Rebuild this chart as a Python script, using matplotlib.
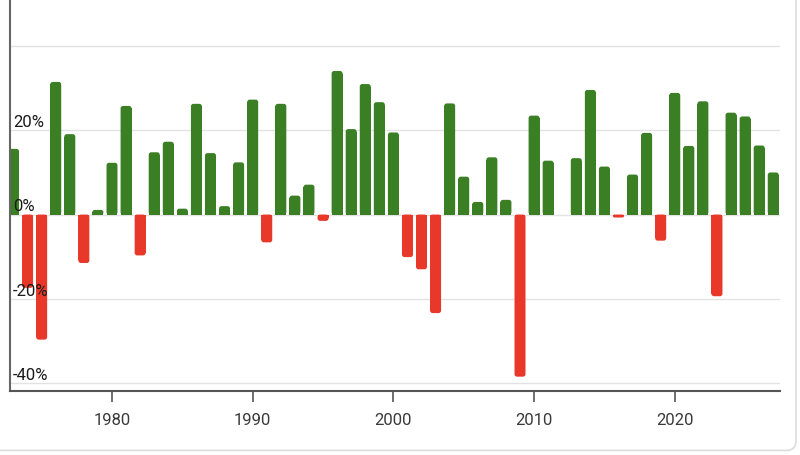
import matplotlib.pyplot as plt
from matplotlib.patches import FancyBboxPatch
import matplotlib.transforms as mtransforms

# Annual returns (%), one bar per year position on the axis
years = list(range(1973, 2028))
returns = [15.6, -17.4, -29.7, 31.5, 19.1, -11.5, 1.1, 12.3, 25.8, -9.7,
           14.8, 17.3, 1.4, 26.3, 14.6, 2.0, 12.4, 27.3, -6.6, 26.3,
           4.5, 7.1, -1.5, 34.1, 20.3, 31.0, 26.7, 19.5, -10.1, -13.0,
           -23.4, 26.4, 9.0, 3.0, 13.6, 3.5, -38.5, 23.5, 12.8, 0.0,
           13.4, 29.6, 11.4, -0.7, 9.5, 19.4, -6.2, 28.9, 16.3, 26.9,
           -19.4, 24.2, 23.3, 16.4, 10.0]

y_ticks = [-40, -20, 0, 20, 40]
y_labels = {-40: '-40%', -20: '-20%', 0: '0%', 20: '20%'}
x_ticks = [1980, 1990, 2000, 2010, 2020]

GREEN = '#3a7f24'
RED = '#e8382a'

plt.rcParams['font.family'] = ['Roboto', 'DejaVu Sans']

fig = plt.figure(figsize=(8, 4.56), dpi=100)
ax = fig.add_axes([0.0125, 0.1404, 0.9625, 0.8596])
ax.set_xlim(1972.75, 2027.48)
ax.set_ylim(-41.9, 51.2)

# card border
card = FancyBboxPatch((-0.05, 0.01), 1.045, 1.2, boxstyle='round,pad=0,rounding_size=0.012',
                      transform=fig.transFigure, facecolor='none', edgecolor='#dcdcdc',
                      linewidth=1.2, mutation_aspect=800 / 456, zorder=0)
fig.patches.append(card)

for t in y_ticks:
    ax.axhline(t, color='#e3e3e3', linewidth=1, zorder=1)

width = 0.78
aspect = 3.34   # y-units per x-unit in pixels
r = 0.18
for yr, v in zip(years, returns):
    if v == 0:
        continue
    c = GREEN if v > 0 else RED
    rs = min(r, abs(v) / 2 / aspect)
    ax.add_patch(FancyBboxPatch((yr - width / 2, min(0, v)), width, abs(v),
                                boxstyle=f'round,pad=0,rounding_size={rs}',
                                mutation_aspect=aspect, facecolor=c, edgecolor='none', zorder=2))
    ry = rs * aspect
    if abs(v) > ry:
        h = v - ry if v > 0 else v + ry
        ax.bar(yr, h, width=width, color=c, linewidth=0, zorder=2)

trans = mtransforms.blended_transform_factory(ax.transAxes, ax.transData)
for t, lab in y_labels.items():
    ax.text(0.004, t + 0.3, lab, transform=trans, fontsize=12, color='#1a1a1a',
            ha='left', va='bottom', zorder=3)

ax.set_yticks([])
ax.set_xticks(x_ticks)
ax.set_xticklabels([str(x) for x in x_ticks], fontsize=12, color='#3a3a3a')
ax.tick_params(axis='x', length=8, width=1.2, color='#555555', pad=7)

for s in ['top', 'right']:
    ax.spines[s].set_visible(False)
ax.spines['left'].set_color('#666666')
ax.spines['left'].set_linewidth(1.5)
ax.spines['bottom'].set_color('#555555')
ax.spines['bottom'].set_linewidth(1.5)

fig.savefig('out.png', dpi=100)
